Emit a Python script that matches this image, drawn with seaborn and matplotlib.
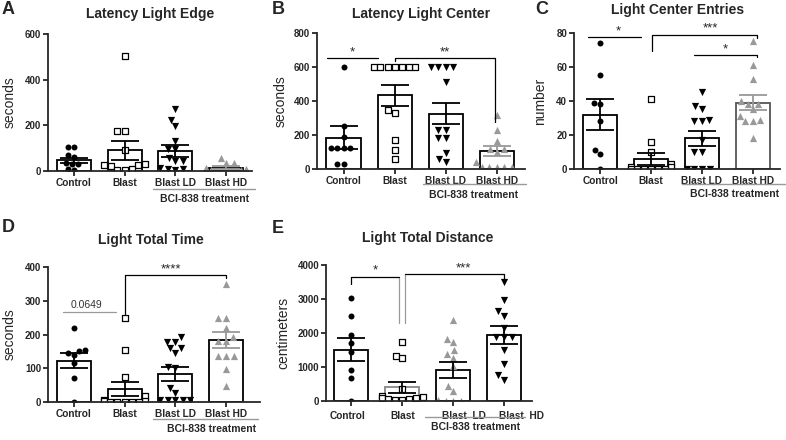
import numpy as np
import pandas as pd
import seaborn as sns
import matplotlib
matplotlib.use("Agg")
import matplotlib.pyplot as plt
import matplotlib.transforms as mtransforms

# groups
groups = ["Control", "Blast", "Blast LD", "Blast HD"]

# A - latency light edge (seconds)
a_control = [105, 105, 70, 62, 35, 30, 30, 10, 5]
a_blast = [505, 175, 175, 90, 30, 28, 25, 20, 10, 5, 5]
a_ld = [270, 222, 197, 131, 95, 95, 58, 44, 44, 15, 10, 8, 5]
a_hd = [58, 36, 36, 15, 10, 8, 5, 5, 3, 2, 2, 0]
a_mean = [47, 90, 88, 15]
a_sem = [12, 40, 27, 5]

# B - latency light center (seconds)
b_control = [600, 254, 189, 124, 124, 124, 124, 28, 28]
b_blast = [600, 600, 600, 600, 600, 600, 600, 348, 329, 171, 112, 57]
b_ld = [600, 600, 600, 600, 512, 230, 230, 181, 181, 93, 57, 43]
b_hd = [315, 230, 165, 118, 118, 100, 43, 14, 14, 14, 14, 10]
b_mean = [183, 435, 325, 106]
b_sem = [68, 62, 62, 30]

# C - light center entries (number)
c_control = [74, 55, 39, 38, 28, 11, 9, 0]
c_blast = [41, 16, 10, 3, 1, 1, 0, 0, 0, 0, 0, 0]
c_ld = [45, 37, 35, 29, 28, 28, 17, 10, 10, 0, 0, 0, 0]
c_hd = [75, 61, 53, 40, 38, 38, 35, 31, 29, 28, 28, 18]
c_mean = [32, 6, 18, 39]
c_sem = [9, 3.5, 4.4, 4.3]

# D - light total time (seconds)
d_control = [218, 154, 150, 146, 140, 117, 71, 0]
d_blast = [248, 154, 73, 17, 5, 3, 2, 0, 0, 0, 0, 0]
d_ld = [194, 179, 179, 159, 159, 145, 103, 100, 41, 27, 5, 5, 5, 5, 5]
d_hd = [349, 248, 248, 218, 192, 182, 182, 135, 135, 135, 97, 48]
d_mean = [122, 38, 83, 183]
d_sem = [22, 21, 21, 23]

# E - light total distance (centimeters)
e_control = [3030, 2510, 1930, 1700, 1450, 910, 680, 0]
e_blast = [1725, 1330, 1265, 350, 150, 120, 100, 80, 60, 50, 30, 20]
e_ld = [2370, 1830, 1725, 1490, 1390, 1265, 1020, 450, 285, 20, 10, 5, 0]
e_hd = [3490, 2960, 2640, 2510, 2150, 1880, 1880, 1880, 1510, 1100, 775, 630]
e_mean = [1510, 400, 920, 1950]
e_sem = [345, 150, 240, 260]

GRAY = "#999999"
sns.set_style("ticks")
plt.rcParams["font.family"] = ["Liberation Sans", "DejaVu Sans"]

W, H = 786, 440
fig = plt.figure(figsize=(7.86, 4.4), dpi=100)

# marker styles: (marker, face, edge, linewidth, size)
dot = ("o", "black", "black", 0, 4.3)
square = ("s", "white", "black", 0.9, 4.0)
down = ("v", "black", "black", 0, 5.2)
up = ("^", GRAY, GRAY, 0, 5.2)


def make_ax(x0, x1, ytop, ybot):
    return fig.add_axes([x0 / W, 1 - ybot / H, (x1 - x0) / W, (ybot - ytop) / H])


def ftext(x, y, s, **kw):
    fig.text(x / W, 1 - y / H, s, ha="center", va="center", **kw)


def fline(x0, x1, y):
    fig.add_artist(plt.Line2D([x0 / W, x1 / W], [1 - y / H, 1 - y / H],
                              color=GRAY, lw=1.0))


def panel(ax, pts, means, sems, styles, ymax, ystep, ylabel, xlim, label_x,
          bar_edges=("black",) * 4, err_colors=("black",) * 4):
    df = pd.DataFrame({"group": groups, "mean": means})
    sns.barplot(data=df, x="group", y="mean", order=groups, color="white",
                edgecolor="black", linewidth=1.3, width=0.67, errorbar=None,
                ax=ax, zorder=1)
    for patch, ec in zip(ax.patches, bar_edges):
        patch.set_edgecolor(ec)
    for i, vals in enumerate(pts):
        mk, fc, ec, lw, sz = styles[i]
        sns.swarmplot(x=[groups[i]] * len(vals), y=vals, order=groups,
                      marker=mk, color=fc, edgecolor=ec, linewidth=lw,
                      size=sz, ax=ax, zorder=2)
        ax.errorbar(i, means[i], yerr=sems[i], fmt="none", ecolor=err_colors[i],
                    elinewidth=1.3, capsize=10, capthick=1.3, zorder=3)
    ax.set_xlim(*xlim)
    ax.set_ylim(0, ymax)
    ax.set_yticks(np.arange(0, ymax + 1, ystep))
    ax.set_yticklabels([str(int(v)) for v in np.arange(0, ymax + 1, ystep)],
                       fontweight="bold", fontsize=7)
    ax.set_xticks(range(4))
    ax.set_xticklabels(groups, fontweight="bold", fontsize=7.3)
    ax.set_xlabel("")
    ax.set_ylabel(ylabel, fontsize=10)
    ax.yaxis.set_label_coords(label_x, 0.5)
    sns.despine(ax=ax)
    for s in ("left", "bottom"):
        ax.spines[s].set_linewidth(1.3)
    ax.tick_params(axis="both", length=3.5, width=1.3, pad=1.5)


def bracket(ax, x0, x1, y, drop0=None, drop1=None, color="black", text=None,
            tx=None, fs=9.5):
    xs, ys = [x0, x1], [y, y]
    if drop0 is not None:
        xs, ys = [x0] + xs, [drop0] + ys
    if drop1 is not None:
        xs, ys = xs + [x1], ys + [drop1]
    ax.plot(xs, ys, color=color, lw=0.9, clip_on=False, zorder=4)
    if text:
        ax.text(tx, y, text, ha="center", va="bottom", fontsize=fs, clip_on=False)


# ---- A
axA = make_ax(48, 252, 34, 171)
panel(axA, [a_control, a_blast, a_ld, a_hd], a_mean, a_sem, [dot, square, down, up],
      600, 200, "seconds", (-0.51, 3.51), -31 / 204,
      err_colors=("black", "black", "black", GRAY))

# ---- B
axB = make_ax(317, 525, 33, 169)
panel(axB, [b_control, b_blast, b_ld, b_hd], b_mean, b_sem, [dot, square, down, up],
      800, 200, "seconds", (-0.52, 3.55), -29 / 208,
      err_colors=("black", "black", "black", GRAY))
bracket(axB, -0.32, 0.67, 650, text="*", tx=0.18)
bracket(axB, 1.0, 2.97, 650, drop0=638, drop1=275, text="**", tx=1.99)

# ---- C
axC = make_ax(574, 780, 33, 169)
panel(axC, [c_control, c_blast, c_ld, c_hd], c_mean, c_sem, [dot, square, down, up],
      80, 20, "number", (-0.51, 3.53), -27 / 206,
      bar_edges=("black", "black", "black", "#555555"),
      err_colors=("black", "black", "black", GRAY))
bracket(axC, -0.23, 0.8, 77.6, text="*", tx=0.35)
bracket(axC, 1.01, 3.08, 79, drop0=69.5, drop1=77, text="***", tx=2.16)
bracket(axC, 1.84, 3.08, 67, drop1=66, text="*", tx=2.46)

# ---- D
axD = make_ax(48, 260, 267, 402)
panel(axD, [d_control, d_blast, d_ld, d_hd], d_mean, d_sem, [dot, square, down, up],
      400, 100, "seconds", (-0.51, 3.67), -31 / 212,
      err_colors=("black", "black", "black", GRAY))
axD.plot([-0.22, 0.84], [267, 267], color=GRAY, lw=0.9, clip_on=False)
axD.text(0.25, 273, "0.0649", ha="center", va="bottom", fontsize=7.5, color="#333333")
bracket(axD, 1.0, 2.99, 376, drop0=262, drop1=366, text="****", tx=1.92)

# ---- E
axE = make_ax(326, 532, 265, 401)
panel(axE, [e_control, e_blast, e_ld, e_hd], e_mean, e_sem, [dot, square, up, down],
      4000, 1000, "centimeters", (-0.5, 3.55), -36 / 206,
      bar_edges=("black", "#888888", "black", "black"))
bracket(axE, 0.0, 0.93, 3660, drop0=3430, text="*", tx=0.46)
axE.plot([0.93, 0.93], [3660, 2280], color=GRAY, lw=0.9, clip_on=False)
bracket(axE, 1.06, 3.0, 3730, drop1=3600, text="***", tx=2.2)
axE.plot([1.06, 1.06], [3730, 2280], color=GRAY, lw=0.9, clip_on=False)
axE.set_xticklabels(["Control", "Blast", "Blast  LD", "Blast  HD"],
                    fontweight="bold", fontsize=7.3)
for lab, dx in zip(axE.get_xticklabels(), [-4, 0, 11, 17]):
    lab.set_transform(lab.get_transform() +
                      mtransforms.ScaledTranslation(dx / 100, -3 / 100, fig.dpi_scale_trans))

# group labels under LD / HD
for x0, x1, yl, xt, yt in [(153, 255, 189, 205, 199), (423, 526, 184, 474, 195),
                           (682, 785, 184, 735, 194), (153, 258, 419, 212, 429),
                           (425, 525, 417, 476, 427)]:
    fline(x0, x1, yl)
    ftext(xt, yt, "BCI-838 treatment", fontsize=7.5, fontweight="bold")

# titles
for x, y, s in [(150, 14, "Latency Light Edge"), (421, 14, "Latency Light Center"),
                (678, 10, "Light Center Entries"), (151, 240, "Light Total Time"),
                (428, 238, "Light Total Distance")]:
    ftext(x, y, s, fontsize=10, fontweight="bold")

# panel letters
for x, y, s in [(8, 9, "A"), (278, 9, "B"), (542, 9, "C"), (8, 227, "D"), (278, 228, "E")]:
    ftext(x, y, s, fontsize=13, fontweight="bold")

fig.savefig("out.png", dpi=100)
